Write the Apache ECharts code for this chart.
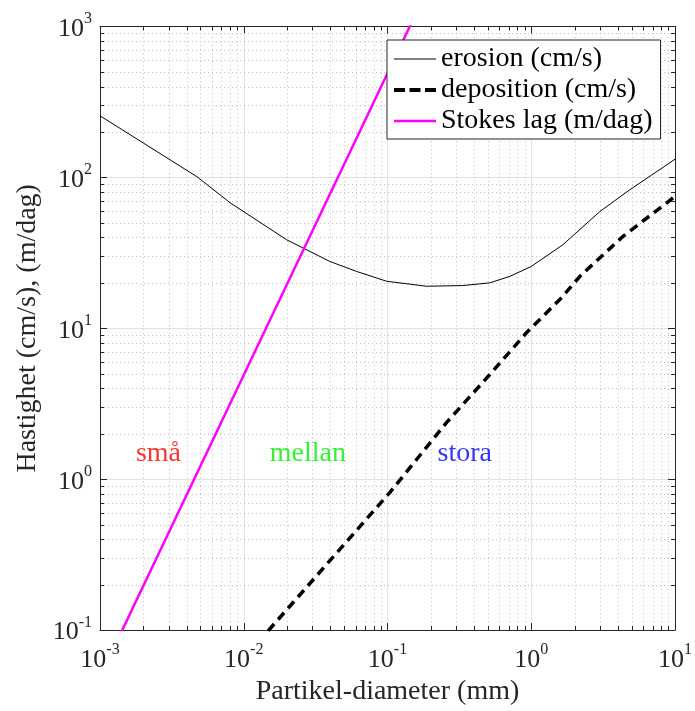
<!DOCTYPE html>
<html>
<head>
<meta charset="utf-8">
<script src="https://cdn.jsdelivr.net/npm/echarts@6/dist/echarts.min.js"></script>
<style>
  html, body { margin: 0; padding: 0; background: #fff; }
  #chart { width: 695px; height: 711px; }
</style>
</head>
<body>
<div id="chart"></div>
<script>
// Grain size (mm) vs. velocity: erosion and deposition thresholds and Stokes settling
const erosionDiameter = [0.001, 0.00473, 0.00802, 0.0199, 0.0398, 0.061, 0.0986, 0.187, 0.334, 0.515, 0.71, 1.0, 1.66, 3.0, 4.85, 10];
const erosionVelocity = [256, 101, 68, 38.6, 27.7, 23.8, 20.5, 19.0, 19.2, 20.0, 22.1, 25.7, 35.8, 59.4, 82.8, 132];

const depositionDiameter = [0.0148, 0.0378, 0.104, 0.258, 0.515, 0.929, 1.58, 2.18, 4.34, 8.77, 10];
const depositionVelocity = [0.099, 0.273, 0.818, 2.38, 4.94, 9.38, 15.5, 22.1, 40.6, 67.9, 75];

const stokesDiameter = [0.001, 0.01, 0.1, 0.2];
const stokesVelocity = [0.049, 4.9, 490, 1960];

// Size class labels
const classNames = ['små', 'mellan', 'stora'];
const classDiameter = [0.00255, 0.0279, 0.345];
const classVelocity = [1.48, 1.48, 1.48];
const classColors = ['#ff0000', '#00ee00', '#0000ff'];

// Axis ranges and minor grid values (log decades)
const xRange = [0.001, 10];
const yRange = [0.1, 1000];
const xMinor = [];
for (let e = -3; e < 1; e++) for (let k = 2; k <= 9; k++) xMinor.push(+(k * Math.pow(10, e)).toPrecision(3));
const yMinor = [];
for (let e = -1; e < 3; e++) for (let k = 2; k <= 9; k++) yMinor.push(+(k * Math.pow(10, e)).toPrecision(3));

const FONT = '"Liberation Serif", "Times New Roman", serif';
const INK = '#262626';

function pairs(xs, ys) { return xs.map((x, i) => [x, ys[i]]); }

function powLabel(v) {
  const e = Math.round(Math.log10(v));
  return '{b|10}{s|' + e + '}';
}
const tickRich = {
  b: { fontSize: 26, fontFamily: FONT, color: INK, verticalAlign: 'bottom', lineHeight: 31 },
  s: { fontSize: 16, fontFamily: FONT, color: INK, verticalAlign: 'top', lineHeight: 31 }
};

// Minor grid lines plus short inward ticks on all four box edges
function minorRender(isX) {
  return function (params, api) {
    const v = api.value(isX ? 0 : 1);
    const dotted = { stroke: '#c2c2c2', lineWidth: 1, lineDash: [1, 3] };
    const tick = { stroke: INK, lineWidth: 1 };
    const lo = api.coord([xRange[0], yRange[0]]);
    const hi = api.coord([xRange[1], yRange[1]]);
    if (isX) {
      const x = Math.round(api.coord([v, 1])[0]) + 0.5;
      return { type: 'group', children: [
        { type: 'line', shape: { x1: x, y1: lo[1], x2: x, y2: hi[1] }, style: dotted },
        { type: 'line', shape: { x1: x, y1: lo[1], x2: x, y2: lo[1] - 4 }, style: tick },
        { type: 'line', shape: { x1: x, y1: hi[1], x2: x, y2: hi[1] + 4 }, style: tick }
      ] };
    }
    const y = Math.round(api.coord([1, v])[1]) + 0.5;
    return { type: 'group', children: [
      { type: 'line', shape: { x1: lo[0], y1: y, x2: hi[0], y2: y }, style: dotted },
      { type: 'line', shape: { x1: lo[0], y1: y, x2: lo[0] + 4, y2: y }, style: tick },
      { type: 'line', shape: { x1: hi[0], y1: y, x2: hi[0] - 4, y2: y }, style: tick }
    ] };
  };
}

const chart = echarts.init(document.getElementById('chart'), null, { renderer: 'canvas' });

const baseX = {
  type: 'log', logBase: 10, min: xRange[0], max: xRange[1],
  axisLine: { show: true, lineStyle: { color: INK, width: 1 } },
  axisTick: { show: true, inside: true, length: 7, lineStyle: { color: INK } },
  splitLine: { show: false }
};
const baseY = {
  type: 'log', logBase: 10, min: yRange[0], max: yRange[1],
  axisLine: { show: true, lineStyle: { color: INK, width: 1 } },
  axisTick: { show: true, inside: true, length: 7, lineStyle: { color: INK } },
  splitLine: { show: false }
};

const legendNames = ['erosion (cm/s)', 'deposition (cm/s)', 'Stokes lag (m/dag)'];
// Legend line samples: thin solid, thick dashed, medium solid
const legendIcons = [
  'path://M0,0 H42 V1 H0 Z',
  'path://M0,0 H11 V4 H0 Z M15.5,0 H26.5 V4 H15.5 Z M31,0 H42 V4 H31 Z',
  'path://M0,0 H42 V2.6 H0 Z'
];

chart.setOption({
  animation: false,
  backgroundColor: '#ffffff',
  textStyle: { fontFamily: FONT },
  grid: { left: 100, top: 26.5, right: 20, bottom: 80 },
  xAxis: [
    Object.assign({}, baseX, {
      position: 'bottom',
      name: 'Partikel-diameter (mm)',
      nameLocation: 'middle',
      nameGap: 38,
      nameTextStyle: { fontSize: 28, fontFamily: FONT, color: INK },
      axisLabel: { margin: 12, formatter: powLabel, rich: tickRich },
      splitLine: { show: true, lineStyle: { color: '#e2e2e2', width: 1 } }
    }),
    Object.assign({}, baseX, { position: 'top', axisLabel: { show: false } })
  ],
  yAxis: [
    Object.assign({}, baseY, {
      position: 'left',
      name: 'Hastighet (cm/s), (m/dag)',
      nameLocation: 'middle',
      nameGap: 56,
      nameTextStyle: { fontSize: 28, fontFamily: FONT, color: INK },
      axisLabel: { margin: 8, formatter: powLabel, rich: tickRich },
      splitLine: { show: true, lineStyle: { color: '#e2e2e2', width: 1 } }
    }),
    Object.assign({}, baseY, { position: 'right', axisLabel: { show: false } })
  ],
  legend: {
    orient: 'vertical',
    left: 387, top: 40,
    data: legendNames.map((n, i) => ({ name: n, icon: legendIcons[i] })),
    selectedMode: false,
    backgroundColor: '#ffffff',
    borderColor: INK,
    borderWidth: 1,
    borderRadius: 0,
    padding: [5, 8, 4, 7],
    itemGap: 3,
    itemWidth: 42,
    itemHeight: 12,
    textStyle: { fontSize: 28, fontFamily: FONT, color: '#000' }
  },
  series: [
    {
      type: 'custom', name: 'xminor', silent: true, z: 1,
      coordinateSystem: 'cartesian2d', xAxisIndex: 0, yAxisIndex: 0,
      renderItem: minorRender(true),
      data: xMinor.map(v => [v, 1])
    },
    {
      type: 'custom', name: 'yminor', silent: true, z: 1,
      coordinateSystem: 'cartesian2d', xAxisIndex: 0, yAxisIndex: 0,
      renderItem: minorRender(false),
      data: yMinor.map(v => [1, v])
    },
    {
      name: legendNames[0], type: 'line', symbol: 'none', z: 3,
      xAxisIndex: 0, yAxisIndex: 0,
      lineStyle: { color: '#000', width: 1 },
      itemStyle: { color: '#000' },
      data: pairs(erosionDiameter, erosionVelocity)
    },
    {
      name: legendNames[1], type: 'line', symbol: 'none', z: 3,
      xAxisIndex: 0, yAxisIndex: 0,
      lineStyle: { color: '#000', width: 3.5, type: [9, 6] },
      itemStyle: { color: '#000' },
      data: pairs(depositionDiameter, depositionVelocity)
    },
    {
      name: legendNames[2], type: 'line', symbol: 'none', z: 3,
      xAxisIndex: 0, yAxisIndex: 0,
      lineStyle: { color: '#ff00ff', width: 2.5 },
      itemStyle: { color: '#ff00ff' },
      data: pairs(stokesDiameter, stokesVelocity)
    },
    {
      name: 'klasser', type: 'scatter', symbolSize: 0, z: 4, silent: true,
      xAxisIndex: 0, yAxisIndex: 0,
      data: classNames.map((n, i) => ({
        name: n,
        value: [classDiameter[i], classVelocity[i]],
        label: { color: classColors[i] }
      })),
      label: {
        show: true, position: 'inside', formatter: '{b}',
        fontSize: 28, fontFamily: FONT
      }
    }
  ]
});
</script>
</body>
</html>
